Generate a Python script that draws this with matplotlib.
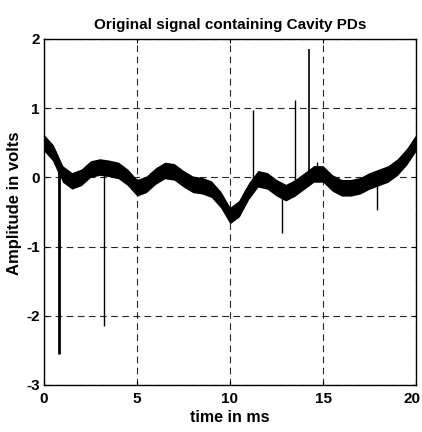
import numpy as np
import matplotlib.pyplot as plt
import matplotlib.transforms as mtransforms

# slow baseline of the signal (read every 0.5 ms)
t = np.arange(0, 20.5, 0.5)
base = [0.50, 0.35, 0.05, -0.05, 0.00, 0.12, 0.15, 0.13, 0.10, 0.00,
        -0.15, -0.10, 0.02, 0.10, 0.08, -0.02, -0.10, -0.12, -0.17, -0.32,
        -0.55, -0.45, -0.20, -0.02, -0.05, -0.15, -0.22, -0.15, -0.05, 0.05,
        0.05, -0.08, -0.15, -0.15, -0.12, -0.05, 0.00, 0.05, 0.15, 0.30,
        0.50]
noise = 0.12  # half height of the noise band

# partial discharge spikes
spike_t = [0.8, 3.2, 11.25, 12.8, 13.5, 14.25, 14.7, 17.9]
spike_base = [0.10, 0.12, -0.05, -0.20, -0.10, 0.02, 0.05, 0.00]
spike_peak = [-2.55, -2.15, 0.97, -0.80, 1.12, 1.85, 0.22, -0.47]
spike_w = [2.0, 1.0, 1.0, 1.0, 1.0, 1.2, 1.0, 1.0]

plt.rcParams['font.family'] = ['Liberation Sans', 'DejaVu Sans']
plt.rcParams['font.weight'] = 'bold'
plt.rcParams['axes.unicode_minus'] = False

fig = plt.figure(figsize=(4.22, 4.32), dpi=100)
ax = fig.add_axes([44 / 422, 1 - 385 / 432, 372 / 422, 346 / 432])

lo = np.array(base) - noise
hi = np.array(base) + noise
ax.fill_between(t, lo, hi, color='black', linewidth=0)
ax.plot(t, base, color='black', linewidth=5)
ax.vlines(spike_t, spike_base, spike_peak, colors='black', linewidths=spike_w)

ax.set_xlim(0, 20)
ax.set_ylim(-3, 2)
ax.set_xticks([0, 5, 10, 15, 20])
ax.set_yticks([-3, -2, -1, 0, 1, 2])
ax.grid(True, color='black', linestyle=(0, (6, 4)), linewidth=0.8, alpha=0.85)
ax.tick_params(direction='in', length=3, top=True, right=True, labelsize=11)
ax.tick_params(axis='x', pad=5)
ax.tick_params(axis='y', pad=3)
for s in ax.spines.values():
    s.set_linewidth(1.0)

# keep the last x tick label inside the figure
last = ax.get_xticklabels()[-1]
last.set_transform(last.get_transform() +
                   mtransforms.ScaledTranslation(-3 / 72, 0, fig.dpi_scale_trans))

ax.set_title('Original signal containing Cavity PDs', fontsize=11, fontweight='bold', pad=7)
ax.set_xlabel('time in ms', fontsize=11.5, fontweight='bold', labelpad=3)
ax.set_ylabel('Amplitude in volts', fontsize=12, fontweight='bold')
ax.yaxis.set_label_coords(-0.058, 0.525)

fig.savefig('out.png', dpi=100)
